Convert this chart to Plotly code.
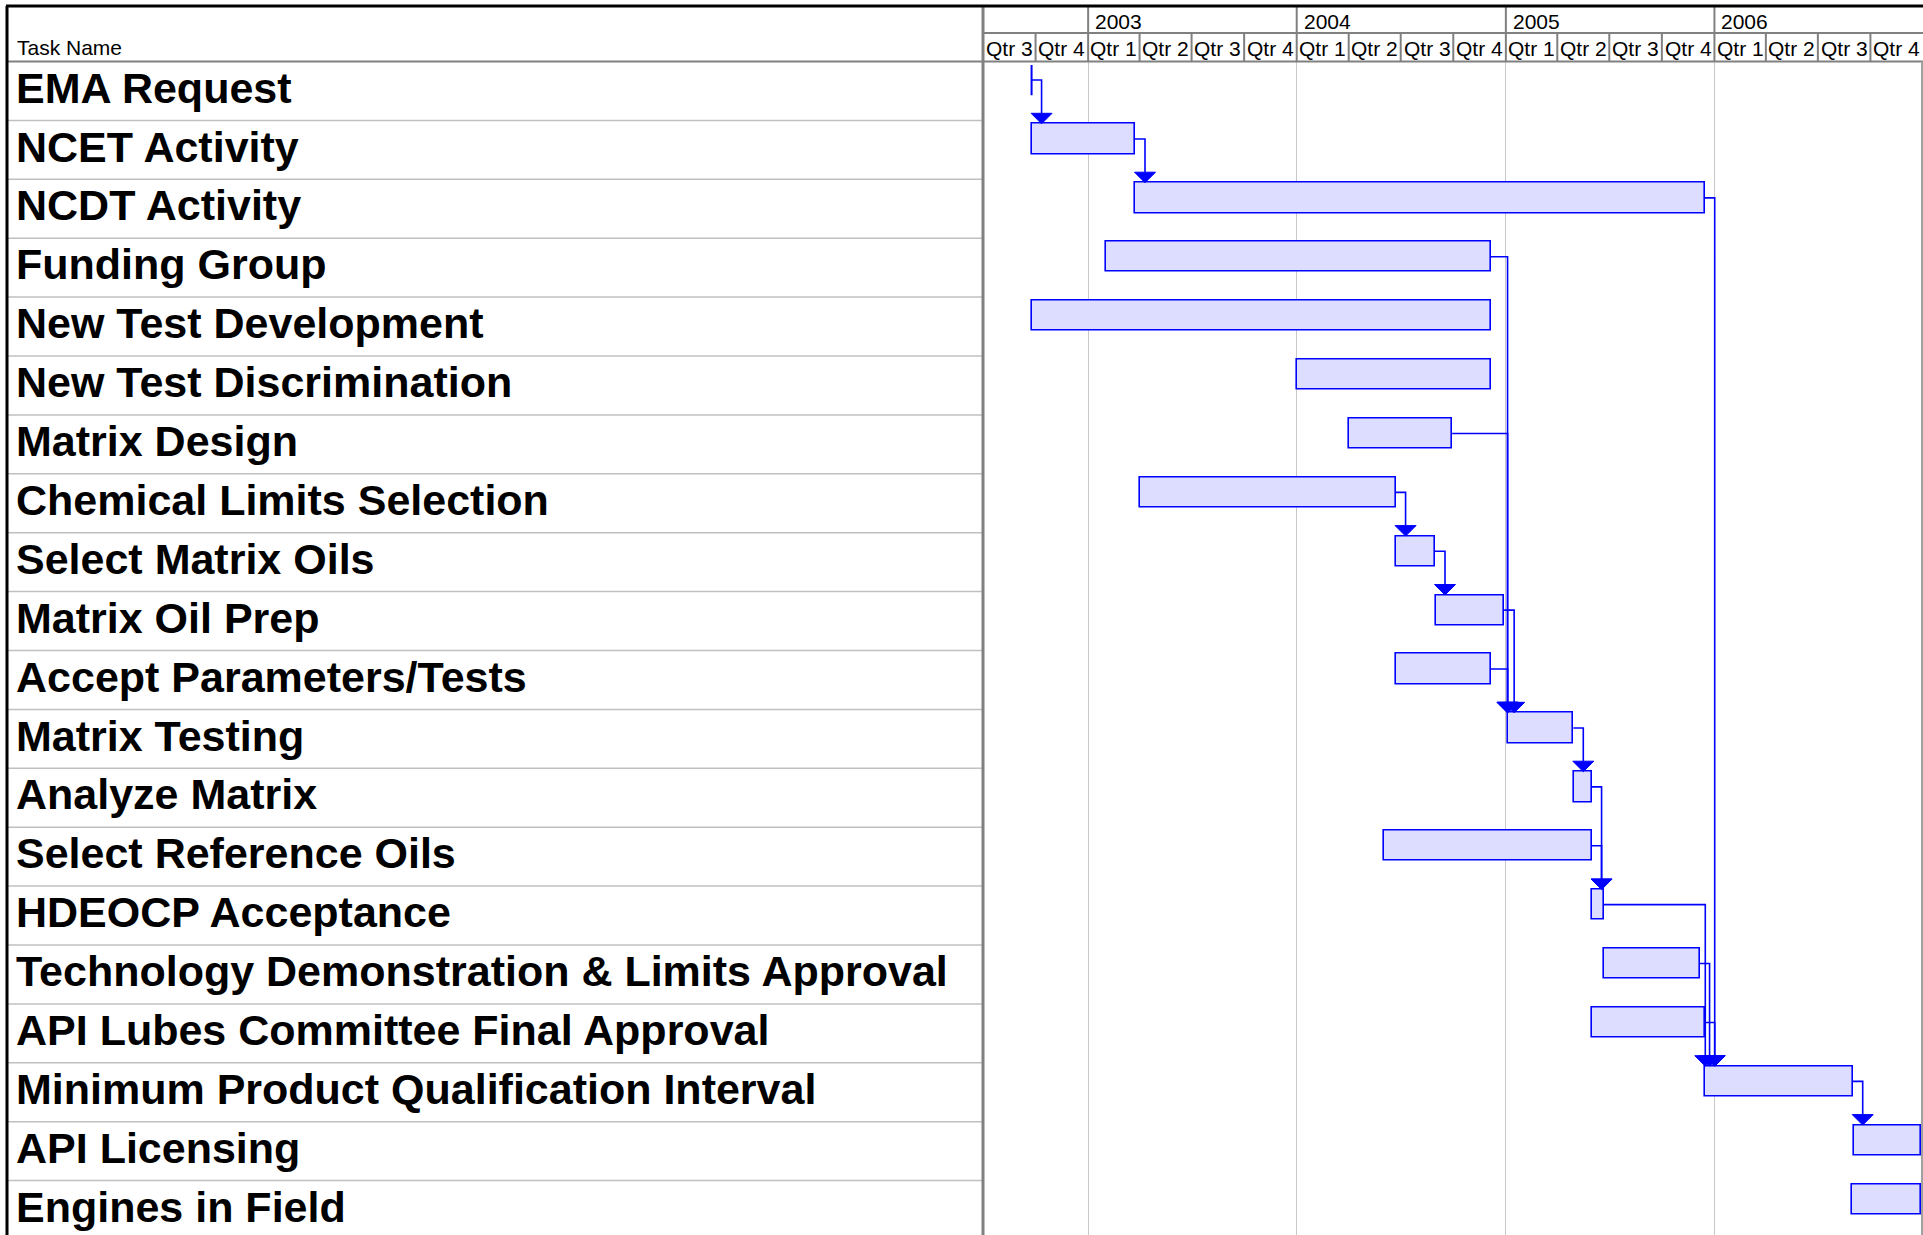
import plotly.graph_objects as go
import pandas as pd

# ---------------- data ----------------
tasks = [
    "EMA Request",
    "NCET Activity",
    "NCDT Activity",
    "Funding Group",
    "New Test Development",
    "New Test Discrimination",
    "Matrix Design",
    "Chemical Limits Selection",
    "Select Matrix Oils",
    "Matrix Oil Prep",
    "Accept Parameters/Tests",
    "Matrix Testing",
    "Analyze Matrix",
    "Select Reference Oils",
    "HDEOCP Acceptance",
    "Technology Demonstration & Limits Approval",
    "API Lubes Committee Final Approval",
    "Minimum Product Qualification Interval",
    "API Licensing",
    "Engines in Field",
]
starts = [
    "2002-09-24", "2002-09-24", "2003-03-24", "2003-02-01", "2002-09-25",
    "2004-01-01", "2004-04-01", "2003-04-02", "2004-06-22", "2004-09-01",
    "2004-06-22", "2005-01-04", "2005-05-01", "2004-06-01", "2005-06-01",
    "2005-06-22", "2005-05-31", "2005-12-16", "2006-09-02", "2006-08-30",
]
finishes = [
    "2002-09-24", "2003-03-24", "2005-12-15", "2004-12-06", "2004-12-06",
    "2004-12-06", "2004-09-29", "2004-06-22", "2004-08-30", "2004-12-29",
    "2004-12-06", "2005-04-29", "2005-05-31", "2005-05-31", "2005-06-21",
    "2005-12-06", "2005-12-15", "2006-08-31", "2006-12-28", "2006-12-28",
]
link_from = [0, 1, 2, 3, 6, 7, 8, 9, 10, 11, 12, 13, 14, 15, 16, 17]
link_to = [1, 2, 17, 11, 11, 8, 9, 11, 11, 12, 14, 14, 17, 17, 17, 18]

year_labels = ["2003", "2004", "2005", "2006"]
quarter_labels = ["Qtr 3", "Qtr 4",
                  "Qtr 1", "Qtr 2", "Qtr 3", "Qtr 4",
                  "Qtr 1", "Qtr 2", "Qtr 3", "Qtr 4",
                  "Qtr 1", "Qtr 2", "Qtr 3", "Qtr 4",
                  "Qtr 1", "Qtr 2", "Qtr 3", "Qtr 4"]
timeline_start = "2002-07-01"
timeline_end = "2007-01-01"
header_title = "Task Name"

# ---------------- layout constants (pixels) ----------------
W, H = 1923, 1235
TABLE_LEFT = 7
TABLE_RIGHT = 983
TOP = 6
HEADER_MID = 33
HEADER_BOTTOM = 61.5
ROW_H = 58.9
BAR_OFF = 3.4
BAR_H = 30.3
ARROW_W = 21
ARROW_H = 10.5
LINK_GAP = 10

FONT = "Arial, 'Liberation Sans', sans-serif"
BLUE = "rgb(0,0,255)"
FILL = "rgb(221,221,255)"
HDR_GRAY = "rgb(128,128,128)"
ROW_GRAY = "rgb(192,192,192)"
GRID_GRAY = "rgb(200,200,200)"

t0 = pd.Timestamp(timeline_start)
t1 = pd.Timestamp(timeline_end)
px_per_day = (W - TABLE_RIGHT) / (t1 - t0).days


def td(pixels):
    return pd.Timedelta(days=pixels / px_per_day)


def fmt(ts):
    return ts.strftime("%Y-%m-%d %H:%M:%S")


def pyp(y_px):
    return 1 - y_px / H


def pxp(x_px):
    return x_px / W


S = [pd.Timestamp(s) for s in starts]
F = [pd.Timestamp(f) for f in finishes]
n = len(tasks)
bar_top = [i + BAR_OFF / ROW_H for i in range(n)]
bar_mid = [i + (BAR_OFF + BAR_H / 2) / ROW_H for i in range(n)]

fig = go.Figure()

# bars
bi = [i for i in range(n) if F[i] > S[i]]
fig.add_trace(go.Bar(
    orientation="h",
    y=[bar_mid[i] for i in bi],
    base=[fmt(S[i]) for i in bi],
    x=[(F[i] - S[i]).total_seconds() * 1000 for i in bi],
    width=BAR_H / ROW_H,
    marker=dict(color=FILL, line=dict(color=BLUE, width=1.6)),
    hoverinfo="skip", showlegend=False,
))

# zero-duration tasks as a thin outline
for i in range(n):
    if F[i] <= S[i]:
        fig.add_trace(go.Scatter(
            x=[fmt(S[i]), fmt(S[i])],
            y=[bar_top[i], bar_top[i] + BAR_H / ROW_H],
            mode="lines", line=dict(color=BLUE, width=2),
            hoverinfo="skip", showlegend=False,
        ))

# links
lx, ly, ax_, ay_ = [], [], [], []
for a, b in zip(link_from, link_to):
    pe = F[a]
    xv = max(pe + td(LINK_GAP), S[b])
    yc = bar_mid[a]
    ytip = bar_top[b]
    ybase = ytip - ARROW_H / ROW_H
    lx += [fmt(pe), fmt(xv), fmt(xv), None]
    ly += [yc, yc, ybase, None]
    ax_ += [fmt(xv - td(ARROW_W / 2)), fmt(xv + td(ARROW_W / 2)), fmt(xv), fmt(xv - td(ARROW_W / 2)), None]
    ay_ += [ybase, ybase, ytip, ybase, None]

fig.add_trace(go.Scatter(x=lx, y=ly, mode="lines",
                         line=dict(color=BLUE, width=1.6),
                         hoverinfo="skip", showlegend=False))
fig.add_trace(go.Scatter(x=ax_, y=ay_, mode="lines", fill="toself",
                         fillcolor=BLUE, line=dict(color=BLUE, width=1),
                         hoverinfo="skip", showlegend=False))

shapes = []
annotations = []

# table row separators
for i in range(1, n):
    shapes.append(dict(type="line", xref="paper", yref="y",
                       x0=pxp(TABLE_LEFT), x1=pxp(TABLE_RIGHT), y0=i, y1=i,
                       line=dict(color=ROW_GRAY, width=1.5), layer="above"))

# header lines
year_starts = pd.date_range(t0, t1, freq="YS")
q_starts = pd.date_range(t0, t1, freq="QS")
for q in q_starts:
    if q in year_starts or q == t0 or q == t1:
        continue
    shapes.append(dict(type="line", xref="x", yref="paper",
                       x0=fmt(q), x1=fmt(q), y0=pyp(HEADER_BOTTOM), y1=pyp(HEADER_MID),
                       line=dict(color=HDR_GRAY, width=2)))
for ys in year_starts:
    if ys == t1:
        continue
    shapes.append(dict(type="line", xref="x", yref="paper",
                       x0=fmt(ys), x1=fmt(ys), y0=pyp(HEADER_BOTTOM), y1=pyp(TOP),
                       line=dict(color=HDR_GRAY, width=2)))
shapes.append(dict(type="line", xref="paper", yref="paper",
                   x0=pxp(TABLE_RIGHT), x1=1, y0=pyp(HEADER_MID), y1=pyp(HEADER_MID),
                   line=dict(color=HDR_GRAY, width=2)))
shapes.append(dict(type="line", xref="paper", yref="paper",
                   x0=pxp(TABLE_LEFT), x1=1, y0=pyp(HEADER_BOTTOM), y1=pyp(HEADER_BOTTOM),
                   line=dict(color=HDR_GRAY, width=2)))
# divider
shapes.append(dict(type="line", xref="paper", yref="paper",
                   x0=pxp(TABLE_RIGHT), x1=pxp(TABLE_RIGHT), y0=0, y1=pyp(TOP),
                   line=dict(color=HDR_GRAY, width=3)))
# right edge
shapes.append(dict(type="line", xref="paper", yref="paper",
                   x0=pxp(W - 1), x1=pxp(W - 1), y0=0, y1=pyp(HEADER_BOTTOM),
                   line=dict(color="rgb(160,160,160)", width=2)))
# outer black border (top & left)
shapes.append(dict(type="line", xref="paper", yref="paper",
                   x0=pxp(TABLE_LEFT - 1), x1=1, y0=pyp(TOP), y1=pyp(TOP),
                   line=dict(color="black", width=3)))
shapes.append(dict(type="line", xref="paper", yref="paper",
                   x0=pxp(TABLE_LEFT), x1=pxp(TABLE_LEFT), y0=0, y1=pyp(TOP),
                   line=dict(color="black", width=3)))

# header labels
hdr_font = dict(family=FONT, size=21, color="black")
annotations.append(dict(text=header_title, xref="paper", yref="paper",
                        x=pxp(14.5), y=pyp(55 - 0.3465 * 21), xanchor="left", yanchor="middle",
                        showarrow=False, font=hdr_font))
ys_list = [y for y in year_starts if y != t1 and y != t0]
for lbl, ys in zip(year_labels, ys_list):
    annotations.append(dict(text=lbl, xref="x", yref="paper",
                            x=fmt(ys + td(5)), y=pyp(28.5 - 0.3465 * 21),
                            xanchor="left", yanchor="middle",
                            showarrow=False, font=hdr_font))
q_edges = list(q_starts)
for k, lbl in enumerate(quarter_labels):
    mid = q_edges[k] + (q_edges[k + 1] - q_edges[k]) / 2
    annotations.append(dict(text=lbl, xref="x", yref="paper",
                            x=fmt(mid), y=pyp(56 - 0.3465 * 21),
                            xanchor="center", yanchor="middle",
                            showarrow=False, font=hdr_font))

# task names
NAME_SIZE = 43
for i, name in enumerate(tasks):
    annotations.append(dict(text="<b>" + name.replace("&", "&amp;") + "</b>",
                            xref="paper", yref="y",
                            x=pxp(13.5), y=i + (41 - 0.3465 * NAME_SIZE) / ROW_H,
                            xanchor="left", yanchor="middle", showarrow=False,
                            font=dict(family=FONT, size=NAME_SIZE, color="black")))

fig.update_layout(
    width=W, height=H,
    margin=dict(l=0, r=0, t=0, b=0, pad=0),
    paper_bgcolor="white", plot_bgcolor="white",
    bargap=0, barmode="overlay",
    showlegend=False,
    hovermode=False,
    shapes=shapes,
    annotations=annotations,
    xaxis=dict(type="date", domain=[pxp(TABLE_RIGHT), 1],
               range=[fmt(t0), fmt(t1)],
               tickvals=[fmt(y) for y in year_starts],
               showgrid=True, gridcolor=GRID_GRAY, gridwidth=1,
               showticklabels=False, ticks="", zeroline=False, showline=False,
               fixedrange=True),
    yaxis=dict(domain=[0, pyp(HEADER_BOTTOM)],
               range=[(H - HEADER_BOTTOM) / ROW_H, 0],
               showgrid=False, showticklabels=False, ticks="", zeroline=False,
               showline=False, fixedrange=True),
)

fig.write_html("out.html", config={"displayModeBar": False},
               post_script="document.body.style.margin='0';document.body.style.overflow='hidden';")
